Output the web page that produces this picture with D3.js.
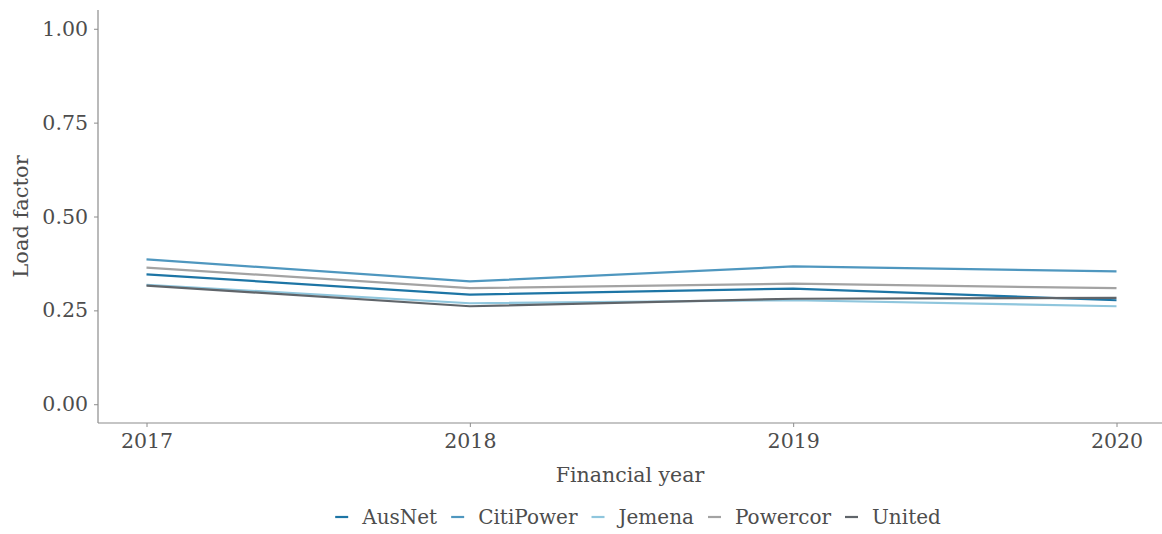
<!DOCTYPE html>
<html><head><meta charset="utf-8">
<script src="https://cdn.jsdelivr.net/npm/d3@7"></script>
<style>body{margin:0;background:#fff}text{font-family:"DejaVu Serif",serif;fill:#4d4d4d}</style>
</head><body><svg id="c" width="1162" height="534"></svg>
<script>
const years = [2017, 2018, 2019, 2020];
const seriesNames = ["AusNet", "CitiPower", "Jemena", "Powercor", "United"];
const ausnet    = [0.346, 0.292, 0.308, 0.277];
const citipower = [0.386, 0.327, 0.367, 0.354];
const jemena    = [0.318, 0.269, 0.277, 0.261];
const powercor  = [0.364, 0.309, 0.321, 0.309];
const united    = [0.316, 0.261, 0.281, 0.283];
const yTicks = [0, 0.25, 0.5, 0.75, 1.0];
const colors = ["#1d75a5", "#4f97bf", "#8fc6dd", "#a3a3a3", "#60656a"];
const values = [ausnet, citipower, jemena, powercor, united];

const svg = d3.select("#c");
const L = 98, R = 1165, T = 10, B = 423;
const x = d3.scaleLinear().domain([2017 - 0.15, 2020 + 0.15]).range([L, R]);
const y = d3.scaleLinear().domain([-0.05, 1.05]).range([B, T]);

const yAx = svg.append("g").attr("transform", `translate(${L},0)`)
  .call(d3.axisLeft(y).tickValues(yTicks).tickFormat(d3.format(".2f")).tickSize(4).tickPadding(6));
const xAx = svg.append("g").attr("transform", `translate(0,${B})`)
  .call(d3.axisBottom(x).tickValues(years).tickFormat(d3.format("d")).tickSize(4).tickPadding(6));
[yAx, xAx].forEach(a => {
  a.select(".domain").attr("stroke", "#8c8c8c").attr("stroke-width", 1.2);
  a.selectAll(".tick line").attr("stroke", "#8c8c8c");
  a.selectAll(".tick text").style("font-size", "20.5px").attr("fill", "#4d4d4d");
});
yAx.select(".domain").attr("d", `M0,${B}V${T}`);
xAx.select(".domain").attr("d", `M${L},0H1162`);

const line = d3.line().x((d, i) => x(years[i])).y(d => y(d));
const order = [3, 1, 0, 2, 4];
order.forEach(k => {
  svg.append("path").datum(values[k]).attr("d", line)
    .attr("fill", "none").attr("stroke", colors[k]).attr("stroke-width", 2.2);
});

svg.append("text").attr("x", (L + 1162) / 2).attr("y", 482).attr("text-anchor", "middle")
  .style("font-size", "20.5px").text("Financial year");
svg.append("text").attr("transform", `translate(28,${(T + B) / 2}) rotate(-90)`)
  .attr("text-anchor", "middle").style("font-size", "21px").text("Load factor");

const lg = svg.append("g");
let cx = 0;
seriesNames.forEach((n, i) => {
  const g = lg.append("g").attr("transform", `translate(${cx},0)`);
  g.append("line").attr("x1", 0).attr("x2", 13).attr("y1", 0).attr("y2", 0)
    .attr("stroke", colors[i]).attr("stroke-width", 2.2);
  const t = g.append("text").attr("x", 27).attr("y", 7).style("font-size", "20px").text(n);
  cx += 27 + t.node().getComputedTextLength() + 14;
});
const lw = cx - 14;
lg.attr("transform", `translate(${638 - lw / 2},517)`);
</script></body></html>
